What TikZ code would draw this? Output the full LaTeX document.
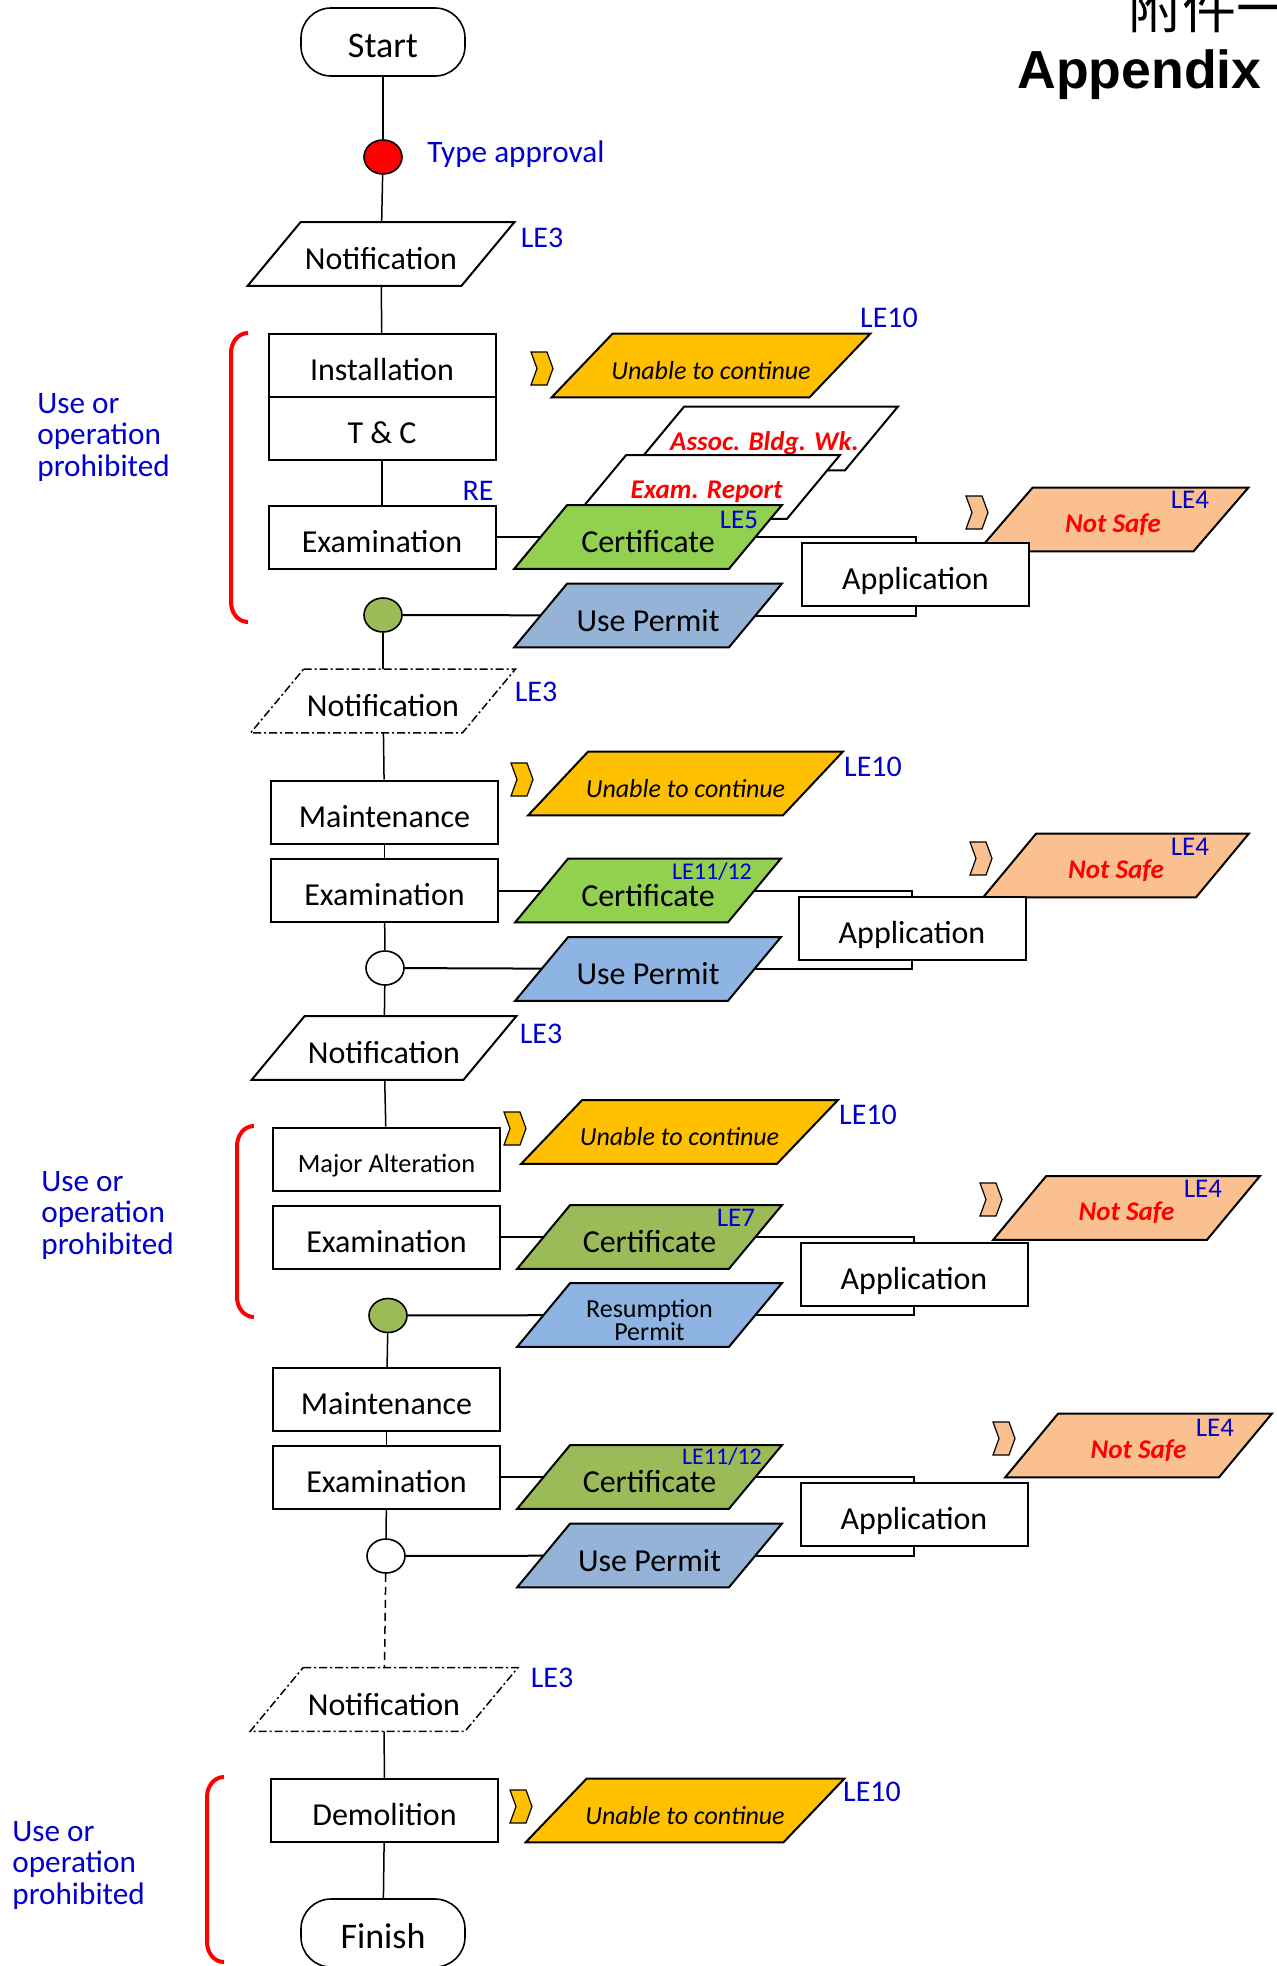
\documentclass[tikz,border=0pt]{standalone}
\usepackage{fontspec}
\setmainfont{Carlito}
\newfontfamily\headfont{Liberation Sans}
\newfontfamily\cjkfont{Noto Sans CJK TC}
\usepackage{tikz}
\usetikzlibrary{positioning,
				calc,
				shapes.geometric}

\definecolor{unableyellow}{HTML}{FFC000}
\definecolor{certgreen}{HTML}{92D050}
\definecolor{olivegreen}{HTML}{9BBB59}
\definecolor{permitblue}{HTML}{95B3D7}
\definecolor{permitblueB}{HTML}{8DB4E2}
\definecolor{notsafe}{HTML}{FAC090}
\definecolor{leblue}{HTML}{0000CC}

\newcommand{\haltfont}{\fontsize{13}{15}\selectfont\itshape}
\newcommand{\redwarn}{\fontsize{13.5}{16}\selectfont\bfseries\itshape\color{red}}
\newcommand{\resumefont}{\fontsize{13}{11.3}\selectfont}

% slanted document box: [half slant] name, centre, edge length, outline, text
\newcommand{\docslant}[6][26.5]{%
	\node[slantbody, minimum width=#4*0.5pt] (#2) at #3 {};
	\filldraw[slantline, #5] ($(#2.north west)+(#1,0)$) -- ($(#2.north east)+(#1,0)$)
		-- ($(#2.south east)-(#1,0)$) -- ($(#2.south west)-(#1,0)$) -- cycle;
	\node[slanttext] at (#2) {#6};
}

\begin{document}
\begin{tikzpicture}[x=0.5pt, y=-0.5pt,
	stepbox/.style={draw, line width=1pt, fill=white, minimum width=113.5pt, minimum height=31.5pt, inner sep=0pt, text height=15.3pt, text depth=0pt, font=\fontsize{16}{19}\selectfont},
	terminal/.style={draw, line width=0.8pt, rounded corners=15pt, minimum width=82pt, minimum height=34pt, inner sep=0pt, text height=15.5pt, text depth=0pt, font=\fontsize{18}{21}\selectfont},
	junction/.style={draw, ellipse, line width=0.8pt, minimum width=19pt, minimum height=17pt, inner sep=0pt},
	slantbody/.style={minimum height=31.5pt, inner sep=0pt},
	slantline/.style={line width=1pt},
	slanttext/.style={font=\fontsize{16}{19}\selectfont, align=center, inner sep=0pt, yshift=-2.5pt},
	lecode/.style={text=leblue, inner sep=0pt, font=\fontsize{15}{18}\selectfont},
	lesmall/.style={lecode, font=\fontsize{13.5}{16}\selectfont},
	letiny/.style={lecode, font=\fontsize{12}{14}\selectfont},
	spine/.style={line width=0.75pt},
	feed/.style={line width=1pt},
	ban/.style={draw=red, line width=2pt},
	banlabel/.style={text=leblue, align=left, anchor=north west, inner sep=0pt, font=\fontsize{15.6}{15.75}\selectfont},
	dashdot/.style={line width=0.75pt, dash pattern=on 4pt off 1.5pt on 1pt off 1.5pt}]
	\useasboundingbox (0,0) rectangle (1276,1966);

	\node[anchor=base west, inner sep=0pt, font=\cjkfont\fontsize{27}{30}\selectfont] (annex) at (1128,28) {附件一};
	\node[anchor=base west, inner sep=0pt, font=\headfont\bfseries\fontsize{26.8}{30}\selectfont] (title) at (1017,88) {Appendix};

	% ---- installation
	\node[terminal] (start) at (383,42) {Start};
	\node[junction, fill=red] (tapp) at (383,157) {};
	\node[lecode, anchor=west, font=\fontsize{15.6}{18}\selectfont] (tappl) at (427,154) {Type approval};
	\docslant{notif1}{(381,254)}{213}{fill=white}{Notification}
	\node[lecode] (le3a) at (542,238) {LE3};
	\node[stepbox] (inst) at (382,365.5) {Installation};
	\node[stepbox] (tc) at (382,428) {T \& C};
	\node[stepbox] (exam1) at (382,537) {Examination};
	\node[lecode] (re) at (478,491) {RE};
	\docslant[30.5]{unable1}{(711,365.5)}{257}{fill=unableyellow}{\haltfont Unable to continue}
	\node[lecode] (le10a) at (889,318) {LE10};
	\docslant{assoc}{(764.5,438.5)}{213}{fill=white}{\redwarn Assoc. Bldg. Wk.}
	\docslant{examrep}{(706.5,487)}{213}{fill=white}{\redwarn Exam. Report}
	\docslant{cert1}{(648,537)}{214}{fill=certgreen}{Certificate}
	\node[lesmall] (le5) at (739,520) {LE5};
	\docslant{permit1}{(648,615.5)}{214}{fill=permitblue}{Use Permit}
	\node[junction, fill=olivegreen] (circ1) at (383,615) {};
	\docslant[27.5]{notsafe1}{(1113,519.5)}{215}{fill=notsafe}{\redwarn Not Safe}
	\node[lesmall] (le4a) at (1190,500) {LE4};
	\node[stepbox] (app1) at (915.5,574.5) {Application};
	\draw[ban] (248,333) to[out=180,in=90] (231,353) -- (231,602) to[out=-90,in=180] (248,622);
	\node[banlabel] (bana) at (37,393) {Use or\\operation\\prohibited};

	\draw[spine] (start) -- (tapp);
	\draw[spine] (tapp) -- (notif1);
	\draw[spine] (notif1) -- (inst);
	\draw[spine] (tc) -- (exam1);
	\draw[feed] (exam1) -- (cert1);
	\draw[feed] (circ1) -- (permit1);
	\draw[feed] (cert1.east) -| (app1.north);
	\draw[feed] (permit1.east) -| (app1.south);

	% ---- maintenance
	\docslant{notif2}{(383,701)}{211}{fill=white, dashdot}{Notification}
	\node[lecode] (le3b) at (536,692) {LE3};
	\node[stepbox] (maint1) at (384.5,812) {Maintenance};
	\node[stepbox] (exam2) at (384.5,890.5) {Examination};
	\docslant[30]{unable2}{(685.5,783.5)}{254}{fill=unableyellow}{\haltfont Unable to continue}
	\node[lecode] (le10b) at (873,767) {LE10};
	\docslant{cert2}{(648,890.5)}{212}{fill=certgreen}{Certificate}
	\node[letiny] (le1112b) at (712,872) {LE11/12};
	\docslant{permit2}{(648,969)}{212}{fill=permitblueB}{Use Permit}
	\node[junction, fill=white] (circ2) at (385,968) {};
	\docslant{notsafe2}{(1116,865.5)}{212}{fill=notsafe}{\redwarn Not Safe}
	\node[lesmall] (le4b) at (1190,847) {LE4};
	\node[stepbox] (app2) at (912,928) {Application};

	\draw[spine] (circ1) -- (notif2);
	\draw[spine] (notif2) -- (maint1);
	\draw[spine] (maint1) -- (exam2);
	\draw[spine] (exam2) -- (circ2);
	\draw[feed] (exam2) -- (cert2);
	\draw[feed] (circ2) -- (permit2);
	\draw[feed] (cert2.east) -| (app2.north);
	\draw[feed] (permit2.east) -| (app2.south);

	% ---- major alteration
	\docslant{notif3}{(384,1048)}{211}{fill=white}{Notification}
	\node[lecode] (le3c) at (541,1034) {LE3};
	\node[stepbox, font=\fontsize{13.2}{16}\selectfont, text height=13pt] (major) at (386.5,1159) {Major Alteration};
	\node[stepbox] (exam3) at (386.5,1237) {Examination};
	\docslant[30.5]{unable3}{(679.5,1132)}{255}{fill=unableyellow}{\haltfont Unable to continue}
	\node[lecode] (le10c) at (868,1115) {LE10};
	\docslant{cert3}{(649.5,1237)}{211}{fill=olivegreen}{Certificate}
	\node[lesmall] (le7) at (736,1218) {LE7};
	\docslant{resume}{(649.5,1315)}{211}{fill=permitblueB}{\resumefont Resumption\\[-7.5pt]\resumefont Permit}
	\node[junction, fill=olivegreen] (circ3) at (388,1315.5) {};
	\docslant{notsafe3}{(1126.5,1208)}{213}{fill=notsafe}{\redwarn Not Safe}
	\node[lesmall] (le4c) at (1203,1189) {LE4};
	\node[stepbox] (app3) at (914,1274.5) {Application};
	\draw[ban] (254,1126) to[out=180,in=90] (237,1146) -- (237,1297) to[out=-90,in=180] (254,1317);
	\node[banlabel] (banb) at (41,1171) {Use or\\operation\\prohibited};

	\draw[spine] (circ2) -- (notif3);
	\draw[spine] (notif3) -- (major);
	\draw[feed] (exam3) -- (cert3);
	\draw[feed] (circ3) -- (resume);
	\draw[feed] (cert3.east) -| (app3.north);
	\draw[feed] (resume.east) -| (app3.south);

	% ---- maintenance, demolition
	\node[stepbox] (maint2) at (386.5,1399.5) {Maintenance};
	\node[stepbox] (exam4) at (386.5,1477) {Examination};
	\docslant{cert4}{(649.5,1477)}{211}{fill=olivegreen}{Certificate}
	\node[letiny] (le1112d) at (722,1457) {LE11/12};
	\docslant{permit4}{(649.5,1555.5)}{211}{fill=permitblue}{Use Permit}
	\node[junction, fill=white] (circ4) at (386,1556) {};
	\docslant{notsafe4}{(1138.5,1445.5)}{213}{fill=notsafe}{\redwarn Not Safe}
	\node[lesmall] (le4d) at (1215,1428) {LE4};
	\node[stepbox] (app4) at (914,1514.5) {Application};
	\docslant{notif4}{(384,1699.5)}{214}{fill=white, dashdot}{Notification}
	\node[lecode] (le3d) at (552,1678) {LE3};
	\node[stepbox] (demol) at (384.5,1810.5) {Demolition};
	\docslant[30.5]{unable4}{(685,1810.5)}{257}{fill=unableyellow}{\haltfont Unable to continue}
	\node[lecode] (le10d) at (872,1792) {LE10};
	\node[terminal] (finish) at (383,1933) {Finish};
	\draw[ban] (224,1777) to[out=180,in=90] (207,1797) -- (207,1942) to[out=-90,in=180] (224,1962);
	\node[banlabel] (banc) at (12,1821) {Use or\\operation\\prohibited};

	\draw[spine] (circ3) -- (maint2);
	\draw[spine] (maint2) -- (exam4);
	\draw[spine] (exam4) -- (circ4);
	\draw[feed] (exam4) -- (cert4);
	\draw[feed] (circ4) -- (permit4);
	\draw[feed] (cert4.east) -| (app4.north);
	\draw[feed] (permit4.east) -| (app4.south);
	\draw[spine, dash pattern=on 4pt off 2.5pt] (circ4) -- (notif4);
	\draw[spine] (notif4) -- (demol);
	\draw[spine] (demol) -- (finish);

	% chevrons
	\foreach \cx/\cy/\cc in {531/352/unableyellow, 966/496/notsafe, 511/763/unableyellow, 970/842/notsafe,
			504/1112/unableyellow, 980/1183/notsafe, 993/1422/notsafe, 510/1790/unableyellow}
		\filldraw[fill=\cc, line width=0.6pt] (\cx,\cy) -- ++(16,0) -- ++(6,16.5) -- ++(-6,16.5) -- ++(-16,0) -- ++(6,-16.5) -- cycle;
\end{tikzpicture}
\end{document}
